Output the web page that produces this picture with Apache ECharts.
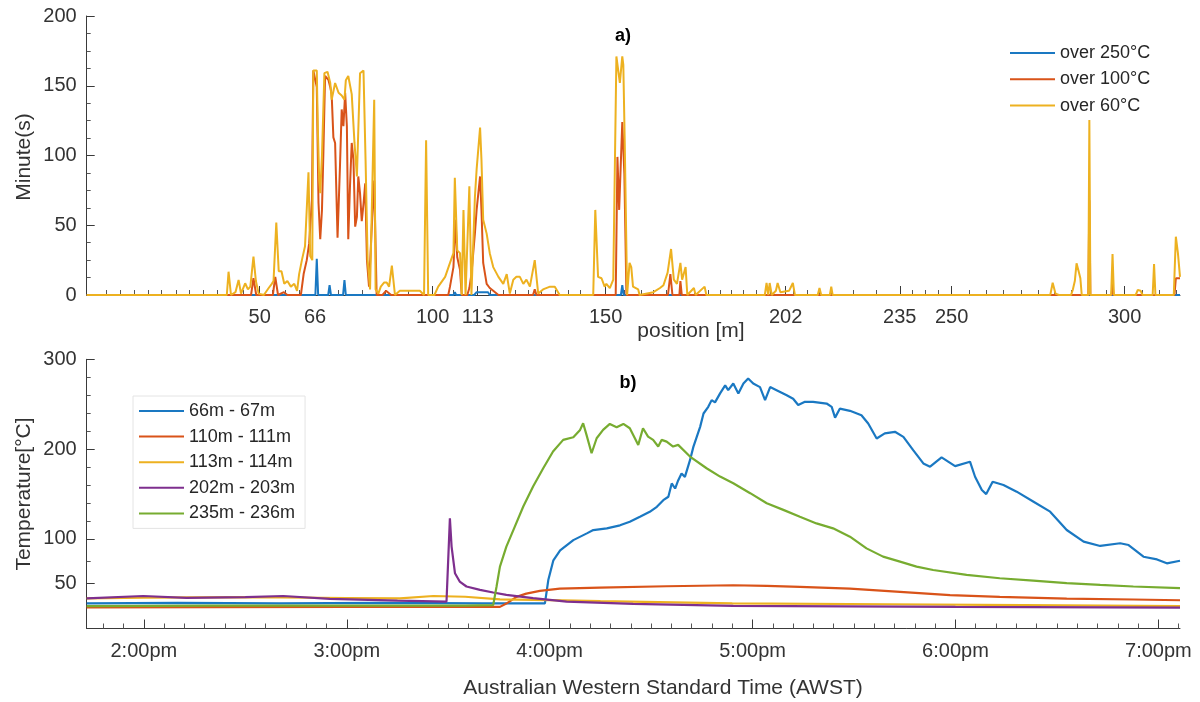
<!DOCTYPE html>
<html>
<head>
<meta charset="utf-8">
<script src="https://cdn.jsdelivr.net/npm/echarts@6/dist/echarts.min.js"></script>
<style>html,body{margin:0;padding:0;background:#fff;}#c{width:1200px;height:702px;}</style>
</head>
<body>
<div id="c"></div>
<script>
// ---------- panel a) : minutes above threshold vs position [m] ----------
var posMajor = [50, 66, 100, 113, 150, 202, 235, 250, 300];
var posMinor = [5.7, 9.7, 13.6, 17.7, 21.6, 25.8, 29.7, 33.8, 37.8, 41.5, 45.3, 53.5, 57.5, 61.5,
  72.8, 79.5, 86.2, 93, 106, 116.5, 120.4, 123.8, 127.6, 131.5, 135.3, 139.2, 142.6, 146.3,
  155.3, 160.3, 163.7, 167.5, 171.5, 175.7, 179.6, 183, 186.3, 189.7, 193.5, 197.6, 204.1, 208.4,
  211.8, 215.2, 221.6, 228.2, 238.6, 242.4, 246.2, 255.1, 260, 265, 270, 274.9, 279.6, 284.5,
  289.8, 294.8, 305.2, 310.1, 314.8];

var over250 = [[0,0],[66.1,0],[66.5,26],[66.9,0],[69.8,0],[70.2,7],[70.6,0],[74.1,0],[74.5,10.7],[74.9,0],
  [106,0],[106.4,2],[106.8,0],[112,0],[112.7,2],[116,2],[116.5,0],[154.4,0],[154.8,7],[155.2,0],
  [289.6,0],[289.8,2],[290,0],[316,0]];

var over100 = [[0,0],[47.5,0],[48.2,12],[49,0],[53.8,0],[54.5,13],[55.3,0],[57,2],[58,0],[61.9,0],
  [62.7,15],[63.6,25],[64.3,37],[65.1,68],[65.5,161],[66.0,161],[66.5,149],[67.0,66],[67.5,40],[68.0,61],
  [68.4,101],[68.9,157],[69.9,154],[70.4,149],[70.8,144],[71.3,113],[71.8,109],[72.5,41],[73.2,92],
  [73.7,133],[74.2,121],[74.7,145],[75.2,121],[75.6,40],[76.1,78],[76.6,109],[77.1,97],[77.6,49],
  [78.1,56],[78.5,85],[79.0,73],[79.5,53],[80.0,65],[80.5,80],[81.0,25],[81.6,6],[82.4,49],[83.1,82],
  [83.8,0],[85.5,0],[86.5,3],[88,0],[104.5,0],[105,6],[106,20],[106.6,54],[107.1,27],[107.9,18],
  [108.4,0],[110,0],[110.6,5],[111.2,15],[112.2,44],[112.7,61],[113.7,85],[114.1,61],[114.6,23],
  [115.6,8],[116.5,5],[117.5,3],[119,0],[129,0],[129.5,4],[130,0],[152.9,0],[153.4,99],[153.9,61],
  [154.8,124],[155.4,87],[156.0,0],[168,0],[168.7,15],[169.3,0],[171.3,0],[171.6,10],[172,0],
  [289.5,0],[289.8,68],[290.1,0],[296.2,0],[296.5,8],[296.8,0],[314.4,0],[314.8,12],[316,12]];

var over60 = [[0,0],[40.5,0],[41,16.7],[41.7,0],[43,2],[43.9,10.8],[44.6,1],[45.8,8.4],[46.6,4],[47.3,6],
  [48.2,27.5],[48.9,10],[49.7,1],[51.2,0],[52.6,5],[53.5,8],[54.0,10],[54.8,52],[55.5,17],[56.3,17],
  [57.1,8],[58,10],[59,6],[60,8],[60.8,3],[61.4,15],[62.2,25],[63.1,35],[64.1,88],[64.6,28],[65.2,25],
  [65.5,161],[66.5,161],[66.8,120],[67.2,82],[67.5,73],[68.0,100],[68.7,159],[69.6,160],[70.4,152],
  [70.8,140],[71.8,152],[72.8,145],[73.7,143],[74.5,140],[74.9,154],[75.6,157],[76.1,157],[76.6,144],
  [77.4,109],[78.1,85],[79.0,159],[80.0,161],[80.6,97],[81.2,25],[81.9,4],[83.1,140],[83.5,4],
  [84.3,1],[85.0,6],[86.0,9],[86.7,9],[87.4,6],[88.2,21],[89.1,0],[90.5,3],[93,3],[96.3,3],[97.5,0],
  [98.1,111],[98.7,0],[100.5,0],[101.6,6],[103.6,13],[105,23],[106,30],[106.4,84],[107.1,32],[107.9,30],
  [108.4,0],[108.9,61],[109.5,0],[110.6,78],[111.2,0],[112.2,70],[112.7,90],[113.7,120],[114.1,97],
  [114.6,54],[115.6,44],[116.1,43],[116.5,30],[117.5,20],[119.0,13],[120.4,8],[121.4,15],[122.3,1],
  [123.3,11],[124.2,13],[125.2,13],[126.2,8],[127.1,11],[128.1,6],[129.5,25],[130.5,1],[131.9,4],
  [133.9,6],[135.3,6],[136.7,0],[146.4,0],[147.0,61],[147.8,13],[148.8,12],[149.7,6],[150.2,8],
  [151.2,5],[152.2,11],[152.6,10],[153.1,171],[153.6,171],[154.1,152],[154.8,171],[155.1,165],
  [155.5,111],[156.2,0],[156.9,23],[157.4,20],[157.9,6],[159.4,4],[159.8,0],[163.8,2],[165.7,5],
  [166.7,7],[167.9,16],[168.9,33],[169.7,11],[170.6,8],[171.6,23],[172.1,11],[173.1,20],[173.6,0],
  [175.5,5],[176,0],[178.6,6],[179.1,0],[196,0],[196.5,8.6],[197,0],[197.4,8.6],[198,0],[199.2,3],
  [199.7,8.6],[200.5,2],[203,3],[204.1,8.6],[204.7,0],[211.3,0],[211.8,5],[212.3,0],[214.8,0],
  [215.2,6],[215.6,0],[278.5,0],[279.2,8.8],[280,1],[281,0],[284.5,0],[285,3.6],[285.6,10],[286.1,22.7],
  [286.7,17],[287.2,12],[287.6,0],[289.5,0],[289.8,125.5],[290.1,0],[296.1,0],[296.5,29.4],[296.9,0],
  [303.2,0],[303.8,3.6],[304.6,3],[305.2,0],[308.1,0],[308.5,22.2],[308.9,0],[314.2,0],[314.8,41.8],
  [315.4,30],[316,13]];

// ---------- panel b) : temperature vs time (minutes after midnight, AWST) ----------
var hourTicks = [840, 900, 960, 1020, 1080, 1140];
var hourLabels = ['2:00pm', '3:00pm', '4:00pm', '5:00pm', '6:00pm', '7:00pm'];
var minuteTicks = [828,834,846,852,858,864,870,876,882,888,894,906,912,918,924,930,936,942,948,954,
  966,972,978,984,990,996,1002,1008,1014,1026,1032,1038,1044,1050,1056,1062,1068,1074,1086,1092,1098,
  1104,1110,1116,1122,1128,1134,1146];
var tempLabels = [50, 100, 200, 300];
var tempMinor = [75, 120, 140, 160, 180, 220, 240, 260, 280];

var s66 = [[823.1,28],[850,28.5],[880,28],[910,28.5],[940,28],[958.6,28],[959.6,54],[961.1,76],[963.1,87],
  [967.0,98.5],[971.0,106],[972.9,109.7],[976.9,111.6],[980.8,115],[983.7,119],[986.7,124.5],[989.6,130],
  [991.7,135.6],[993.6,143],[995.1,146.8],[996.1,161.7],[997.1,156],[998.0,165],[999.0,172.8],[1000.0,169],
  [1001.5,187.6],[1002.5,202.4],[1003.5,213.6],[1004.5,224.7],[1005.5,239.6],[1006.9,247],[1007.9,254.5],
  [1008.9,252],[1010.4,262],[1011.9,271],[1012.8,265.6],[1014.3,273],[1015.8,262],[1017.3,273],
  [1018.7,278.6],[1020.2,273],[1022.2,269],[1023.7,254.5],[1025.2,269],[1027.1,265.6],[1030.1,260],
  [1032.0,256],[1033.5,249],[1035.5,252.6],[1037.9,252.6],[1041.9,250.7],[1043.4,247],[1044.4,235],
  [1045.8,245],[1048.8,242.6],[1052.2,237.7],[1054.2,228.5],[1056.7,211.8],[1059.1,217.4],[1062.1,219.2],
  [1064.6,213.6],[1067.5,198.8],[1070.5,184],[1072.5,180.3],[1075.9,190.7],[1079.9,181],[1084.3,185.9],
  [1085.8,169.1],[1087.8,154.3],[1089.1,149.8],[1091.0,163.6],[1094.2,159.9],[1098.1,152.5],[1103.1,141.3],
  [1108.0,130.2],[1112.9,109.8],[1117.9,96.8],[1122.8,92],[1128.7,95],[1131.2,93],[1135.6,80],
  [1139.6,77],[1142.5,72.6],[1146.4,75.5]];

var s110 = [[823.1,23.6],[900,24],[945.3,24.1],[947.2,27.8],[950.2,35.2],[953.1,38.9],[957.1,41.9],[963,44.5],
  [974.8,45.6],[994.6,47.1],[1014.3,48.2],[1024.2,47.5],[1034,46.4],[1048.8,44.5],[1063.6,40.8],
  [1078.4,37.1],[1093.1,35.3],[1112.9,33.4],[1132.6,32.3],[1146.4,31.5]];

var s113 = [[823.1,33.6],[840,34.5],[870,35],[900,34],[915.7,33.6],[925.6,36.2],[935,35.4],[945.3,32.5],
  [960,31.7],[975,30.5],[1014,28],[1060,27],[1100,26],[1146.4,25]];

var s202 = [[823.1,33.6],[839.8,36.2],[852.6,34.2],[870,35],[881.2,36.2],[895,33],[915,31],[929.5,30],
  [929.9,30],[930.5,122.7],[931,91.3],[932,61.6],[933.4,52.3],[935.4,46.8],[939.4,43],[943.3,40.1],
  [947.2,37.5],[955.1,33.8],[965,30],[984.7,27.4],[1014.3,25.2],[1080,24],[1146.4,23.3]];

var s235 = [[823.1,25],[860,25.5],[900,25.5],[935,25.5],[943.3,26],[944.3,46.8],[945.3,69],[947.2,91.3],
  [949.7,113.6],[952.2,135.9],[955.1,158.2],[958.1,178.6],[961.0,197.2],[964.0,210.2],[967.0,213.2],
  [969.0,221.3],[969.9,228.8],[970.9,215.8],[972.4,195.3],[973.9,212],[975.8,221.3],[977.8,228],
  [979.8,224.3],[981.8,228],[983.7,223.2],[985.2,212],[986.2,204.6],[987.6,223.2],[989.1,213.9],
  [990.6,210.2],[992.1,202.8],[993.1,210.2],[994.6,208.3],[996.5,202.8],[998.0,204.6],[1001.5,191.6],
  [1006.4,178.6],[1010.4,169.3],[1014.3,161.9],[1019.3,150.8],[1024.2,139.6],[1029.1,132.2],
  [1034.0,124.5],[1038.9,117.1],[1043.8,111.6],[1048.8,102.3],[1053.7,89.3],[1058.6,80.1],[1063.6,74.5],
  [1068.5,68.9],[1073.4,65.2],[1083.3,59.7],[1093.1,56],[1103.0,53.4],[1112.9,50.5],[1122.8,48.6],
  [1132.6,46.8],[1146.4,44.9]];

var C = {blue:'#1a78c2', orange:'#d95319', yellow:'#edb120', purple:'#7e2f8e', green:'#77ac30'};
var FONT = 'Liberation Sans, Arial, Helvetica, sans-serif';
var AX = '#3a3a3a', TXT = '#333333';

function lineSeries(name, data, color, xi, yi, w) {
  return {name:name, type:'line', data:data, xAxisIndex:xi, yAxisIndex:yi, showSymbol:false, symbol:'none',
    clip:false, lineStyle:{color:color, width:w}, itemStyle:{color:color}, animation:false};
}

var chart = echarts.init(document.getElementById('c'), null, {renderer:'canvas'});
chart.setOption({
  backgroundColor:'#ffffff',
  animation:false,
  textStyle:{fontFamily:FONT},
  grid:[
    {left:86.7, right:20, top:16, height:279},
    {left:86.7, right:20, top:359.3, height:269.2}
  ],
  xAxis:[
    {gridIndex:0, type:'value', min:0, max:316, position:'bottom',
      axisLine:{show:true, lineStyle:{color:AX, width:1}},
      axisTick:{show:true, inside:true, length:9, customValues:posMajor, lineStyle:{color:AX}},
      axisLabel:{customValues:posMajor, fontSize:20, color:TXT, margin:12, fontFamily:FONT},
      splitLine:{show:false}},
    {gridIndex:0, type:'value', min:0, max:316, position:'bottom',
      axisLine:{show:false},
      axisTick:{show:true, inside:true, length:5, customValues:posMinor, lineStyle:{color:'#555'}},
      axisLabel:{show:false}, splitLine:{show:false}},
    {gridIndex:1, type:'value', min:823.1, max:1146.4, position:'bottom',
      axisLine:{show:true, lineStyle:{color:AX, width:1}},
      axisTick:{show:true, inside:true, length:9, customValues:hourTicks, lineStyle:{color:AX}},
      axisLabel:{customValues:hourTicks, fontSize:20, color:TXT, margin:13, fontFamily:FONT,
        formatter:function(v){var i = hourTicks.indexOf(Math.round(v)); return i>=0 ? hourLabels[i] : '';}},
      splitLine:{show:false}},
    {gridIndex:1, type:'value', min:823.1, max:1146.4, position:'bottom',
      axisLine:{show:false},
      axisTick:{show:true, inside:true, length:5, customValues:minuteTicks, lineStyle:{color:'#555'}},
      axisLabel:{show:false}, splitLine:{show:false}}
  ],
  yAxis:[
    {gridIndex:0, type:'value', min:0, max:200, interval:50, position:'left',
      axisLine:{show:true, lineStyle:{color:AX, width:1}},
      axisTick:{show:true, inside:true, length:8, lineStyle:{color:AX}},
      minorTick:{show:true, splitNumber:4, length:4, lineStyle:{color:'#555'}},
      axisLabel:{fontSize:20, color:TXT, margin:10, fontFamily:FONT},
      splitLine:{show:false}, minorSplitLine:{show:false}},
    {gridIndex:1, type:'value', min:0, max:300, position:'left',
      axisLine:{show:true, lineStyle:{color:AX, width:1}},
      axisTick:{show:true, inside:true, length:8, customValues:tempLabels, lineStyle:{color:AX}},
      axisLabel:{customValues:tempLabels, fontSize:20, color:TXT, margin:10, fontFamily:FONT},
      splitLine:{show:false}},
    {gridIndex:1, type:'value', min:0, max:300, position:'left', offset:0,
      axisLine:{show:false},
      axisTick:{show:true, inside:true, length:4, customValues:tempMinor, lineStyle:{color:'#555'}},
      axisLabel:{show:false}, splitLine:{show:false}}
  ],
  legend:[
    {data:['over 250°C','over 100°C','over 60°C'], orient:'vertical', left:1010, top:44,
      itemWidth:45, itemHeight:18, itemGap:8.3, padding:0, icon:'path://M0,8.5L45,8.5L45,10.5L0,10.5Z',
      textStyle:{fontSize:18, color:'#262626', fontFamily:FONT}},
    {data:['66m - 67m','110m - 111m','113m - 114m','202m - 203m','235m - 236m'], orient:'vertical',
      left:133, top:396, itemWidth:45, itemHeight:18, itemGap:7.6, padding:[6,10,6,6],
      icon:'path://M0,8.5L45,8.5L45,10.5L0,10.5Z',
      borderColor:'#e4e4e4', borderWidth:1, backgroundColor:'#ffffff',
      textStyle:{fontSize:18, color:'#262626', fontFamily:FONT}}
  ],
  graphic:[
    {type:'text', x:623, y:36, style:{text:'a)', font:'bold 18px '+FONT, fill:'#000', align:'center', verticalAlign:'middle'}},
    {type:'text', x:628, y:383, style:{text:'b)', font:'bold 18px '+FONT, fill:'#000', align:'center', verticalAlign:'middle'}},
    {type:'text', x:691, y:331, style:{text:'position [m]', font:'21px '+FONT, fill:TXT, align:'center', verticalAlign:'middle'}},
    {type:'text', x:663, y:688, style:{text:'Australian Western Standard Time (AWST)', font:'21px '+FONT, fill:TXT, align:'center', verticalAlign:'middle'}},
    {type:'text', x:24, y:157, rotation:Math.PI/2, style:{text:'Minute(s)', font:'21px '+FONT, fill:TXT, align:'center', verticalAlign:'middle'}},
    {type:'text', x:24, y:494, rotation:Math.PI/2, style:{text:'Temperature[°C]', font:'21px '+FONT, fill:TXT, align:'center', verticalAlign:'middle'}}
  ],
  series:[
    lineSeries('over 250°C', over250, C.blue, 0, 0, 2),
    lineSeries('over 100°C', over100, C.orange, 0, 0, 2),
    lineSeries('over 60°C', over60, C.yellow, 0, 0, 2),
    lineSeries('66m - 67m', s66, C.blue, 2, 1, 2.2),
    lineSeries('110m - 111m', s110, C.orange, 2, 1, 2.2),
    lineSeries('113m - 114m', s113, C.yellow, 2, 1, 2.2),
    lineSeries('202m - 203m', s202, C.purple, 2, 1, 2.2),
    lineSeries('235m - 236m', s235, C.green, 2, 1, 2.2)
  ]
});
</script>
</body>
</html>
